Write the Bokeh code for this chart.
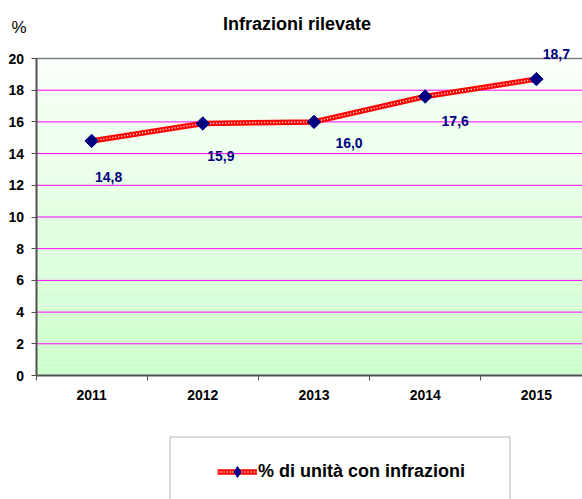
import math
from bokeh.plotting import figure
from bokeh.models import (FixedTicker, Label, BoxAnnotation, Legend, LegendItem,
                          ColumnDataSource, Range1d)
from bokeh.embed import file_html
from bokeh.resources import INLINE
from bokeh.core.properties import value

# ---- data ----
years = ["2011", "2012", "2013", "2014", "2015"]
values = [14.8, 15.9, 16.0, 17.6, 18.7]
value_labels = ["14,8", "15,9", "16,0", "17,6", "18,7"]
y_ticks = [0, 2, 4, 6, 8, 10, 12, 14, 16, 18, 20]
series_name = "% di unità con infrazioni"
title_text = "Infrazioni  rilevate"
unit_text = "%"

# ---- style (pixels) ----
lab_dx = [17, 18, 35, 30, 20]
lab_dy = [36, 33, 21, 24, -25]

W, H = 582, 499
FONT = "Liberation Sans"
AX_X = 35.5        # pixel of the y axis
AX_Y = 375         # pixel of the x axis
PX_X = 111.2       # pixels per category
PX_Y = 15.85       # pixels per y unit

xs = list(range(1, len(years) + 1))
x0 = 0.5 - AX_X / PX_X
x1 = 0.5 + (W - AX_X) / PX_X
y0 = -(H - AX_Y) / PX_Y
y1 = AX_Y / PX_Y

p = figure(width=W, height=H, output_backend="svg", toolbar_location=None,
           x_range=Range1d(x0, x1), y_range=Range1d(y0, y1),
           min_border=0, title_location=None)
p.outline_line_color = None
p.background_fill_color = "white"
p.border_fill_color = "white"
p.xgrid.grid_line_color = None
p.ygrid.grid_line_color = None

# gradient plot area (pale at top -> light green at bottom)
n = 80
tops, bots, cols = [], [], []
ymax = y_ticks[-1]
for i in range(n):
    b = ymax * i / n
    t = ymax * (i + 1) / n
    f = (i + 0.5) / n
    c = int(204 + (250 - 204) * f)
    tops.append(t); bots.append(b); cols.append("#%02x%02x%02x" % (c, 255, c))
p.quad(left=0.5, right=x1 + 1, bottom=bots, top=tops, fill_color=cols,
       line_color=None, level="image")

# horizontal grid lines and top border
gy = y_ticks[1:-1]
p.segment(x0=[0.5] * len(gy), x1=[x1 + 1] * len(gy), y0=gy, y1=gy,
          line_color="#ff00ff", line_width=1, level="underlay")
p.segment(x0=[0.5], x1=[x1 + 1], y0=[ymax], y1=[ymax],
          line_color="#808080", line_width=1.5, level="underlay")

# y axis
p.yaxis.fixed_location = 0.5
p.yaxis.bounds = (0, ymax)
p.yaxis.ticker = FixedTicker(ticks=y_ticks)
p.yaxis.axis_line_color = "#505050"
p.yaxis.axis_line_width = 2
p.yaxis.major_tick_out = 5
p.yaxis.major_tick_in = 0
p.yaxis.major_tick_line_color = "#505050"
p.yaxis.minor_tick_line_color = None
p.yaxis.major_label_standoff = 7
p.yaxis.major_label_text_font = FONT
p.yaxis.major_label_text_font_style = "bold"
p.yaxis.major_label_text_font_size = "14px"
p.yaxis.major_label_text_color = "black"

# x axis
p.xaxis.fixed_location = 0
p.xaxis.bounds = (0.5, x1 + 1)
p.xaxis.ticker = FixedTicker(ticks=xs, minor_ticks=[0.5, 1.5, 2.5, 3.5, 4.5, 5.5])
p.xaxis.major_label_overrides = {x: y for x, y in zip(xs, years)}
p.xaxis.axis_line_color = "#505050"
p.xaxis.axis_line_width = 2
p.xaxis.major_tick_out = 0
p.xaxis.major_tick_in = 0
p.xaxis.minor_tick_out = 5
p.xaxis.minor_tick_in = 0
p.xaxis.minor_tick_line_color = "#505050"
p.xaxis.major_label_standoff = 9
p.xaxis.major_label_text_font = FONT
p.xaxis.major_label_text_font_style = "bold"
p.xaxis.major_label_text_font_size = "14px"
p.xaxis.major_label_text_color = "black"

# title and unit
p.add_layout(Label(x=299, y=H - 23, x_units="screen", y_units="screen", text=title_text,
                   text_font=FONT, text_font_style="bold", text_font_size="18px",
                   text_align="center", text_baseline="middle", text_color="black"))
p.add_layout(Label(x=18.5, y=H - 27, x_units="screen", y_units="screen", text=unit_text,
                   text_font=FONT, text_font_size="17px", text_align="center",
                   text_baseline="middle", text_color="black"))

# series
src = ColumnDataSource(dict(x=xs, y=values, lab=value_labels, dx=lab_dx, dy=lab_dy))
l1 = p.line("x", "y", source=src, line_color="#ff0000", line_width=5.5)
l2 = p.line("x", "y", source=src, line_color="white", line_width=1.5, line_dash="1 2")
sc = p.scatter("x", "y", source=src, marker="square", angle=math.pi / 4, size=9.5,
               fill_color="#000080", line_color="#000080")
p.text("x", "y", text="lab", source=src, x_offset="dx", y_offset="dy",
       text_font=value(FONT), text_font_style="bold", text_font_size="14px",
       text_color="#000080", text_align="center", text_baseline="middle")

# marker used for the legend sample only (not drawn in the plot)
leg_src = ColumnDataSource(dict(x=[float("nan")], y=[float("nan")]))
sc_leg = p.scatter("x", "y", source=leg_src, marker="diamond", size=11,
                   fill_color="#000080", line_color="#000080")

# legend with its frame
p.add_layout(BoxAnnotation(left=169.5, right=509.5, top=H - 436.5, bottom=-10,
                           left_units="screen", right_units="screen",
                           top_units="screen", bottom_units="screen",
                           fill_alpha=0, line_color="black", line_width=1))
legend = Legend(items=[LegendItem(label=series_name, renderers=[l1, l2, sc_leg])],
                location=(217, H - 471 - 13.5), padding=0, margin=0, glyph_width=40,
                glyph_height=27, label_height=27, label_standoff=1,
                label_text_font=FONT, label_text_font_style="bold",
                label_text_font_size="18px", label_text_color="black",
                border_line_color=None, background_fill_alpha=0)
p.add_layout(legend, "center")

open("out.html", "w").write(file_html(p, INLINE))
